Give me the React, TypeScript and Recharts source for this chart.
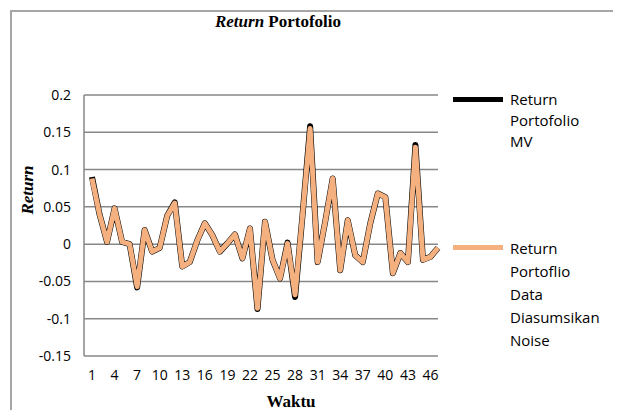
import { CartesianGrid, Line, LineChart, XAxis, YAxis } from 'recharts'

const periods = Array.from({ length: 47 }, (_, i) => String(i + 1))

const returnMV = [
  0.09, 0.04, 0.003, 0.048, 0.003, 0.0, -0.058, 0.019, -0.01, -0.005, 0.038, 0.056,
  -0.03, -0.024, 0.005, 0.028, 0.012, -0.01, 0.001, 0.013, -0.019, 0.021, -0.087,
  0.03, -0.021, -0.046, 0.002, -0.071, 0.04, 0.158, -0.024, 0.03, 0.088, -0.035,
  0.032, -0.015, -0.024, 0.028, 0.068, 0.063, -0.039, -0.012, -0.024, 0.133, -0.021,
  -0.017, -0.005,
]

const returnNoise = [
  0.088, 0.04, 0.003, 0.048, 0.003, 0.0, -0.057, 0.019, -0.01, -0.005, 0.038, 0.055,
  -0.03, -0.024, 0.005, 0.028, 0.012, -0.01, 0.001, 0.013, -0.019, 0.021, -0.086,
  0.03, -0.021, -0.046, 0.001, -0.068, 0.04, 0.155, -0.024, 0.03, 0.088, -0.035,
  0.032, -0.015, -0.024, 0.028, 0.068, 0.063, -0.039, -0.012, -0.024, 0.13, -0.021,
  -0.017, -0.005,
]

const yTicks = [0.2, 0.15, 0.1, 0.05, 0, -0.05, -0.1, -0.15]

const legendItems = [
  { lines: ['Return', 'Portofolio', 'MV'], color: '#000000', top: 81, gap: 21 },
  { lines: ['Return', 'Portoflio', 'Data', 'Diasumsikan', 'Noise'], color: '#f4b07f', top: 229, gap: 23 },
]

const serif = '"Liberation Serif", "Times New Roman", serif'
const sans = '"Open Sans", "Noto Sans", sans-serif'

export default function App() {
  const data = periods.map((p, i) => ({
    period: p,
    mv: returnMV[i],
    noise: returnNoise[i],
  }))

  return (
    <div style={{ position: 'relative', width: 605, height: 410, marginBottom: -8 }}>
      {/* chart area frame: only top and left edges show, it runs off the page */}
      <div
        style={{
          position: 'absolute',
          left: 2,
          top: 2,
          width: 611,
          height: 408,
          boxSizing: 'border-box',
          borderTop: '2px solid #a6a6a6',
          borderLeft: '2px solid #a6a6a6',
        }}
      />
      <div
        style={{
          position: 'absolute',
          left: 270,
          top: 4,
          transform: 'translateX(-50%)',
          fontFamily: serif,
          fontWeight: 'bold',
          fontSize: 17,
          lineHeight: '20px',
          whiteSpace: 'nowrap',
        }}
      >
        <i>Return</i> Portofolio
      </div>
      <div
        style={{
          position: 'absolute',
          left: 20,
          top: 182,
          transform: 'translate(-50%, -50%) rotate(-90deg)',
          fontFamily: serif,
          fontWeight: 'bold',
          fontStyle: 'italic',
          fontSize: 17,
          whiteSpace: 'nowrap',
        }}
      >
        Return
      </div>
      <div
        style={{
          position: 'absolute',
          left: 283,
          top: 394,
          transform: 'translate(-50%, -50%)',
          fontFamily: serif,
          fontWeight: 'bold',
          fontSize: 17,
          whiteSpace: 'nowrap',
        }}
      >
        Waktu
      </div>

      <div style={{ position: 'absolute', left: 0, top: 0 }}>
        <LineChart width={605} height={410} data={data} margin={{ top: 87, right: 175, bottom: 32, left: 16 }}>
          <CartesianGrid stroke="#878787" strokeWidth={1.5} vertical={false} />
          <XAxis
            dataKey="period"
            interval={2}
            padding={{ left: 8, right: 0 }}
            height={30}
            axisLine={false}
            tickLine={false}
            tickSize={0}
            tickMargin={14}
            tick={{ fill: '#000', fontSize: 14, fontFamily: sans }}
          />
          <YAxis
            width={60}
            domain={[-0.15, 0.2]}
            ticks={yTicks}
            interval={0}
            tickFormatter={(v: number) => String(v)}
            axisLine={{ stroke: '#878787', strokeWidth: 1.5 }}
            tickLine={false}
            tickSize={0}
            tickMargin={13}
            tick={{ fill: '#000', fontSize: 14, fontFamily: sans }}
          />
          <Line
            type="linear"
            dataKey="mv"
            stroke="#000000"
            strokeWidth={6}
            dot={false}
            strokeLinejoin="round"
            isAnimationActive={false}
          />
          <Line
            type="linear"
            dataKey="noise"
            stroke="#f4b07f"
            strokeWidth={5}
            dot={false}
            strokeLinejoin="round"
            isAnimationActive={false}
          />
        </LineChart>
      </div>

      {legendItems.map((item) => (
        <div key={item.top} style={{ position: 'absolute', left: 445, top: item.top }}>
          <div
            style={{
              position: 'absolute',
              left: 0,
              top: 8,
              width: 50,
              height: 5,
              background: item.color,
            }}
          />
          <div
            style={{
              position: 'absolute',
              left: 57,
              top: 0,
              fontFamily: sans,
              fontSize: 15,
              lineHeight: `${item.gap}px`,
              color: '#000',
              whiteSpace: 'nowrap',
            }}
          >
            {item.lines.map((l) => (
              <div key={l}>{l}</div>
            ))}
          </div>
        </div>
      ))}
    </div>
  )
}
